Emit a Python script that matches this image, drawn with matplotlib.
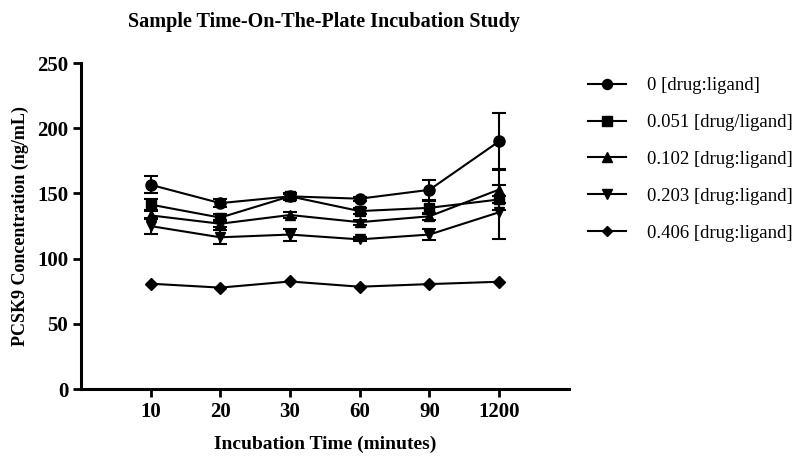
import numpy as np
import matplotlib.pyplot as plt
from matplotlib.lines import Line2D

plt.rcParams['font.family'] = ['Liberation Serif', 'DejaVu Serif']

# data
times = ['10', '20', '30', '60', '90', '1200']
labels = ['0 [drug:ligand]', '0.051 [drug/ligand]', '0.102 [drug:ligand]',
          '0.203 [drug:ligand]', '0.406 [drug:ligand]']
markers = ['o', 's', '^', 'v', 'D']

conc_0 = [156.7, 142.6, 147.8, 146.0, 152.8, 190.0]
err_0 = [6.5, 3.0, 2.0, 1.5, 7.7, 22.0]
conc_051 = [141.5, 131.5, 147.8, 136.5, 139.0, 145.4]
err_051 = [4.4, 3.0, 2.5, 2.0, 5.0, 2.5]
conc_102 = [133.2, 126.8, 133.5, 128.0, 132.5, 153.0]
err_102 = [3.0, 2.5, 2.0, 2.0, 2.5, 16.0]
conc_203 = [125.0, 116.4, 118.5, 114.8, 118.5, 135.6]
err_203 = [6.0, 5.5, 4.6, 1.5, 4.0, 20.6]
conc_406 = [80.8, 77.8, 82.5, 78.5, 80.5, 82.3]
err_406 = None  # too small to show

series = [conc_0, conc_051, conc_102, conc_203, conc_406]
errors = [err_0, err_051, err_102, err_203, err_406]
sizes = [8, 7.5, 7.5, 7.5, 6]

x = np.arange(1, len(times) + 1)

fig = plt.figure(figsize=(8, 4.71), dpi=100)
ax = fig.add_axes([0.101, 0.174, 0.61, 0.692])

handles = []
for y, e, m, ms, lab in zip(series, errors, markers, sizes, labels):
    ax.errorbar(x, y, yerr=e, marker=m, markersize=ms, color='black',
                lw=1.5, elinewidth=1.5, capsize=5, capthick=1.5)
    handles.append(Line2D([], [], color='black', lw=1.5, marker=m,
                          markersize=ms * 0.9))

ax.set_xlim(0, 7)
ax.set_ylim(0, 250)
ax.set_xticks(x)
ax.set_xticklabels(times)
ax.set_yticks(np.arange(0, 251, 50))

for side in ['top', 'right']:
    ax.spines[side].set_visible(False)
for side in ['left', 'bottom']:
    ax.spines[side].set_linewidth(2.2)
ax.tick_params(direction='out', length=6, width=2, labelsize=15, pad=3)
for t in ax.get_xticklabels() + ax.get_yticklabels():
    t.set_fontweight('bold')

ax.set_xlabel('Incubation Time (minutes)', fontsize=14, fontweight='bold', labelpad=10)
ax.set_ylabel('PCSK9 Concentration (ng/mL)', fontsize=13, fontweight='bold', labelpad=6)
fig.suptitle('Sample Time-On-The-Plate Incubation Study', x=0.405, y=0.975,
             fontsize=14.5, fontweight='bold')

leg = fig.legend(handles=handles, labels=labels, loc='upper left',
                 bbox_to_anchor=(0.714, 0.872), frameon=False, fontsize=13.5,
                 labelspacing=1.05, handlelength=2.0, handletextpad=1.15)

plt.savefig('out.png', dpi=100)
